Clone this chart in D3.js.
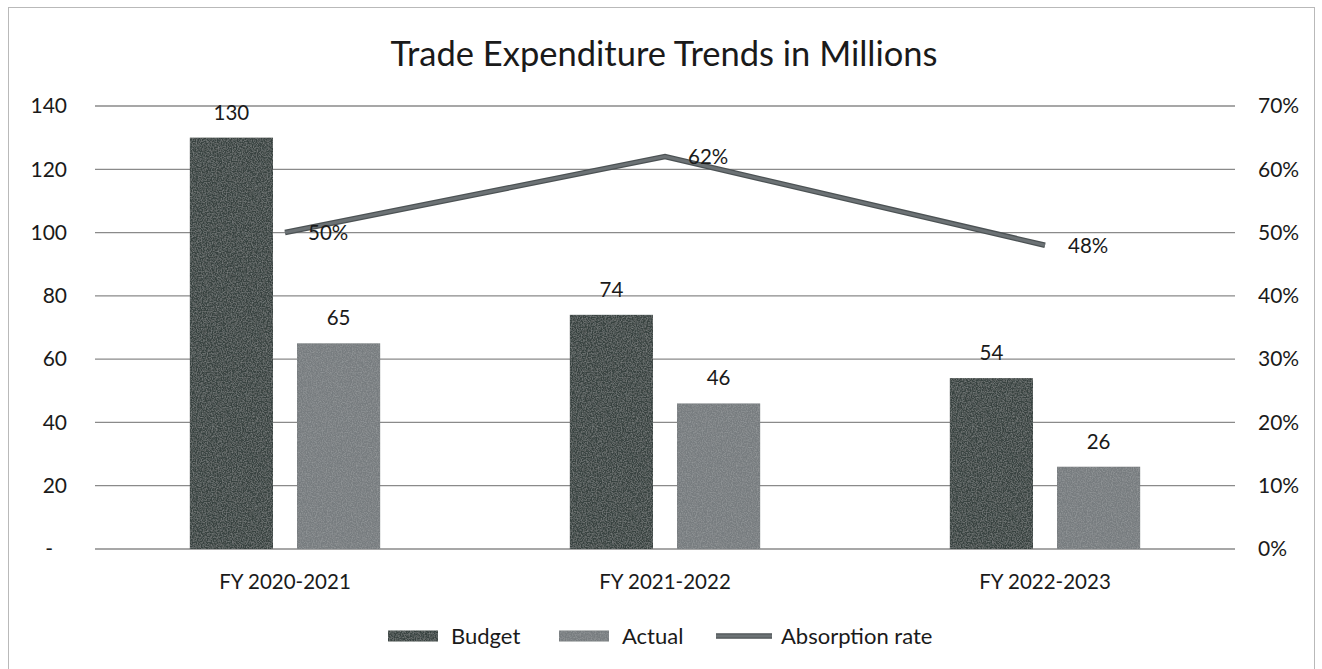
<!DOCTYPE html>
<html>
<head>
<meta charset="utf-8">
<script src="https://cdn.jsdelivr.net/npm/d3@7"></script>
<style>
  html, body { margin: 0; padding: 0; background: #ffffff; }
  svg text { font-family: Lato, "Open Sans", "Noto Sans", sans-serif; fill: #1a1a1a; }
</style>
</head>
<body>
<svg id="chart" width="1322" height="669"></svg>
<script>
// Fiscal years and amounts (millions)
const categories = ["FY 2020-2021", "FY 2021-2022", "FY 2022-2023"];
const seriesNames = ["Budget", "Actual"];
const budget = [130, 74, 54];
const actual = [65, 46, 26];
const absorptionRate = [0.50, 0.62, 0.48];

// Axis ticks
const leftTicks = [0, 20, 40, 60, 80, 100, 120, 140];
const rightTicks = [0, 0.1, 0.2, 0.3, 0.4, 0.5, 0.6, 0.7];

const colors = { Budget: "#38433f", Actual: "#777c7f", line: "#6c7275" };

const svg = d3.select("#chart");
const W = 1322, H = 669;
const plot = { left: 95, right: 1235, top: 106, bottom: 549 };

// Fine grain texture for the bar fills
const defs = svg.append("defs");
const grain = defs.append("filter").attr("id", "grain")
  .attr("x", 0).attr("y", 0).attr("width", 1).attr("height", 1);
grain.append("feTurbulence").attr("type", "fractalNoise")
  .attr("baseFrequency", 0.8).attr("numOctaves", 2).attr("seed", 3).attr("result", "noise");
grain.append("feColorMatrix").attr("in", "noise").attr("type", "matrix")
  .attr("values", "0 0 0 0 0.55  0 0 0 0 0.57  0 0 0 0 0.57  0.6 0 0 0 -0.22")
  .attr("result", "speck");
grain.append("feComposite").attr("in", "speck").attr("in2", "SourceGraphic")
  .attr("operator", "in").attr("result", "speckIn");
grain.append("feMerge").call(m => {
  m.append("feMergeNode").attr("in", "SourceGraphic");
  m.append("feMergeNode").attr("in", "speckIn");
});

// Frame around the chart area
svg.append("rect")
  .attr("x", 8.5).attr("y", 7.5)
  .attr("width", W - 16).attr("height", H)
  .attr("fill", "#ffffff").attr("stroke", "#b9b9b9").attr("stroke-width", 1);

const x = d3.scaleBand().domain(categories).range([plot.left, plot.right]).paddingInner(0).paddingOuter(0);
const x1 = d3.scaleBand().domain(seriesNames).range([0, x.bandwidth()]).paddingInner(0.224).paddingOuter(0.885);
const yL = d3.scaleLinear().domain([0, 140]).range([plot.bottom, plot.top]);
const yR = d3.scaleLinear().domain([0, 0.7]).range([plot.bottom, plot.top]);

// Title
svg.append("text")
  .attr("x", 664).attr("y", 66)
  .attr("text-anchor", "middle")
  .style("font-size", "34.5px")
  .text("Trade Expenditure Trends in Millions");

// Gridlines
svg.append("g").selectAll("line")
  .data(leftTicks).join("line")
  .attr("x1", plot.left).attr("x2", plot.right)
  .attr("y1", d => yL(d)).attr("y2", d => yL(d))
  .attr("stroke", "#8a8a8a").attr("stroke-width", 1.3);

// Left axis labels
const leftAxis = d3.axisLeft(yL).tickValues(leftTicks).tickSize(0).tickPadding(28)
  .tickFormat(d => d === 0 ? "-" : d3.format("d")(d));
const gL = svg.append("g").attr("transform", `translate(${plot.left},0)`).call(leftAxis);
gL.select(".domain").remove();
gL.selectAll("text").style("font-size", "21px").attr("fill", "#1a1a1a").style("font-family", null);
gL.selectAll(".tick").filter(d => d === 0).select("text").attr("dx", -14);

// Right axis labels
const rightAxis = d3.axisRight(yR).tickValues(rightTicks).tickSize(0).tickPadding(23)
  .tickFormat(d3.format(".0%"));
const gR = svg.append("g").attr("transform", `translate(${plot.right},0)`).call(rightAxis);
gR.select(".domain").remove();
gR.selectAll("text").style("font-size", "21px").attr("fill", "#1a1a1a").style("font-family", null);

// Category labels
const xAxis = d3.axisBottom(x).tickSize(0).tickPadding(25);
const gX = svg.append("g").attr("transform", `translate(0,${plot.bottom})`).call(xAxis);
gX.select(".domain").remove();
gX.selectAll("text").style("font-size", "20.5px").attr("fill", "#1a1a1a").style("font-family", null);

// Bars
const rows = categories.map((c, i) => ({ cat: c, values: [
  { key: "Budget", value: budget[i] },
  { key: "Actual", value: actual[i] }
]}));

const groups = svg.append("g").selectAll("g")
  .data(rows).join("g")
  .attr("transform", d => `translate(${x(d.cat)},0)`);

groups.selectAll("rect")
  .data(d => d.values).join("rect")
  .attr("x", d => x1(d.key))
  .attr("y", d => yL(d.value))
  .attr("width", x1.bandwidth())
  .attr("height", d => yL(0) - yL(d.value))
  .attr("fill", d => colors[d.key])
  .attr("filter", "url(#grain)");

groups.selectAll("text.val")
  .data(d => d.values).join("text")
  .attr("class", "val")
  .attr("x", d => x1(d.key) + x1.bandwidth() / 2)
  .attr("y", d => yL(d.value) - 18)
  .attr("text-anchor", "middle")
  .style("font-size", "20.5px")
  .text(d => d.value);

// Absorption rate line
const pts = categories.map((c, i) => ({ cx: x(c) + x.bandwidth() / 2, v: absorptionRate[i] }));
const line = d3.line().x(d => d.cx).y(d => yR(d.v));
svg.append("path").datum(pts)
  .attr("d", line).attr("fill", "none")
  .attr("stroke", "#4c5254").attr("stroke-width", 5.5).attr("stroke-linejoin", "miter");
svg.append("path").datum(pts)
  .attr("d", line).attr("fill", "none")
  .attr("stroke", colors.line).attr("stroke-width", 3).attr("stroke-linejoin", "miter");

svg.append("g").selectAll("text")
  .data(pts).join("text")
  .attr("x", d => d.cx + 23)
  .attr("y", d => yR(d.v))
  .attr("dy", "0.36em")
  .style("font-size", "20.5px")
  .text(d => d3.format(".0%")(d.v));

// Legend
const legend = svg.append("g").attr("transform", "translate(388,636)");
const legendItems = [
  { label: "Budget", type: "bar", color: colors.Budget, x: 0 },
  { label: "Actual", type: "bar", color: colors.Actual, x: 171 },
  { label: "Absorption rate", type: "line", color: colors.line, x: 328 }
];
legendItems.forEach(it => {
  const g = legend.append("g").attr("transform", `translate(${it.x},0)`);
  if (it.type === "bar") {
    g.append("rect").attr("x", 0).attr("y", -5.5).attr("width", 50).attr("height", 11)
      .attr("fill", it.color).attr("filter", "url(#grain)");
    g.append("text").attr("x", 63).attr("y", 0).attr("dy", "0.36em").style("font-size", "22px").text(it.label);
  } else {
    g.append("line").attr("x1", 0).attr("x2", 56).attr("y1", 0).attr("y2", 0)
      .attr("stroke", "#4c5254").attr("stroke-width", 5.5);
    g.append("line").attr("x1", 0).attr("x2", 56).attr("y1", 0).attr("y2", 0)
      .attr("stroke", it.color).attr("stroke-width", 3);
    g.append("text").attr("x", 65).attr("y", 0).attr("dy", "0.36em").style("font-size", "22px").text(it.label);
  }
});
</script>
</body>
</html>
